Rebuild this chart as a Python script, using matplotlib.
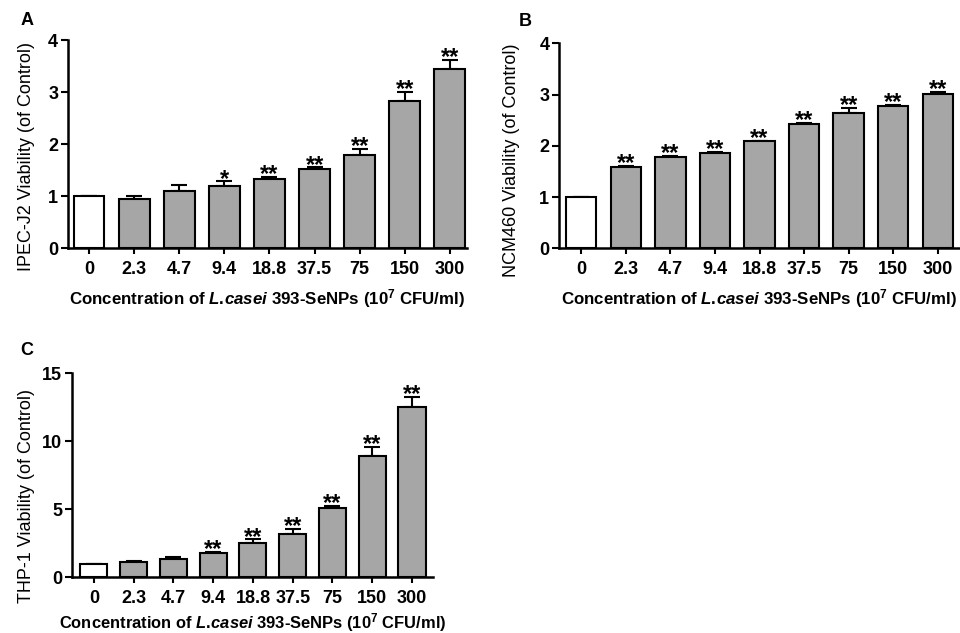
import matplotlib
matplotlib.use("Agg")
import matplotlib.pyplot as plt

plt.rcParams['font.family'] = ['Liberation Sans', 'DejaVu Sans']
plt.rcParams['mathtext.fontset'] = 'custom'
plt.rcParams['mathtext.it'] = 'Liberation Sans:italic:bold'
plt.rcParams['mathtext.rm'] = 'Liberation Sans:bold'
plt.rcParams['mathtext.default'] = 'regular'

# ---------------------------------------------------------------------
# Data
# ---------------------------------------------------------------------
conc_labels = ['0', '2.3', '4.7', '9.4', '18.8', '37.5', '75', '150', '300']

ipec_mean = [1.00, 0.94, 1.10, 1.19, 1.33, 1.51, 1.78, 2.83, 3.45]
ipec_err = [0.00, 0.06, 0.11, 0.09, 0.03, 0.04, 0.12, 0.17, 0.16]
ipec_sig = ['', '', '', '*', '**', '**', '**', '**', '**']

ncm_mean = [1.00, 1.58, 1.79, 1.86, 2.09, 2.43, 2.64, 2.78, 3.02]
ncm_err = [0.00, 0.03, 0.01, 0.02, 0.01, 0.02, 0.10, 0.02, 0.03]
ncm_sig = ['', '**', '**', '**', '**', '**', '**', '**', '**']

thp_mean = [1.00, 1.10, 1.35, 1.76, 2.50, 3.20, 5.12, 8.92, 12.50]
thp_err = [0.00, 0.08, 0.13, 0.12, 0.28, 0.37, 0.15, 0.68, 0.74]
thp_sig = ['', '', '', '**', '**', '**', '**', '**', '**']

XLABEL = r"Concentration of $\mathit{L.\!casei}$ 393-SeNPs (10$^{7}$ CFU/ml)"

BAR_GREY = '#a6a6a6'


def draw_panel(ax, means, errs, sigs, ylabel, ymax, yticks, xlim,
               ylab_pos, xlab_pad, xlab_size):
    x = list(range(len(means)))
    colors = ['white'] + [BAR_GREY] * (len(means) - 1)
    ax.bar(x, means, width=0.68, color=colors, edgecolor='black',
           linewidth=1.5, zorder=2)
    lower = [0] * len(errs)
    ax.errorbar(x, means, yerr=[lower, errs], fmt='none', ecolor='black',
                elinewidth=1.5, capsize=6, capthick=1.5, zorder=1)
    for xi, m, e, s in zip(x, means, errs, sigs):
        if s:
            ax.annotate(s, (xi, m + e), xytext=(0, -3),
                        textcoords='offset points', ha='center',
                        va='baseline', fontsize=17, fontweight='bold')
    ax.set_xlim(*xlim)
    ax.set_ylim(0, ymax)
    ax.set_yticks(yticks)
    ax.set_xticks(x)
    ax.set_xticklabels(conc_labels)
    ax.tick_params(axis='x', length=4, width=1.5, pad=5, labelsize=13)
    ax.tick_params(axis='y', length=5, width=1.5, pad=2, labelsize=13)
    for lab in ax.get_xticklabels() + ax.get_yticklabels():
        lab.set_fontweight('bold')
    for side in ['top', 'right']:
        ax.spines[side].set_visible(False)
    for side in ['left', 'bottom']:
        ax.spines[side].set_linewidth(1.8)
    ax.set_ylabel(ylabel, fontsize=13)
    ax.yaxis.set_label_coords(*ylab_pos)
    ax.set_xlabel(XLABEL, fontsize=xlab_size, fontweight='bold',
                  labelpad=xlab_pad)


fig = plt.figure(figsize=(9.6, 6.33), dpi=100)

ax_a = fig.add_axes([0.0708, 0.6082, 0.4156, 0.3286])
draw_panel(ax_a, ipec_mean, ipec_err, ipec_sig,
           'IPEC-J2 Viability (of Control)', 4, [0, 1, 2, 3, 4],
           (-0.47, 8.38), (-0.082, 0.44), 7, 12.2)

ax_b = fig.add_axes([0.5823, 0.6077, 0.4177, 0.3239])
draw_panel(ax_b, ncm_mean, ncm_err, ncm_sig,
           'NCM460 Viability (of Control)', 4, [0, 1, 2, 3, 4],
           (-0.5, 8.5), (-0.097, 0.43), 7, 12.2)

ax_c = fig.add_axes([0.0747, 0.0880, 0.3764, 0.3223])
draw_panel(ax_c, thp_mean, thp_err, thp_sig,
           'THP-1 Viability (of Control)', 15, [0, 5, 10, 15],
           (-0.56, 8.53), (-0.102, 0.40), 3, 11.9)

fig.text(0.021, 0.981, 'A', fontsize=13, fontweight='bold', va='top')
fig.text(0.540, 0.979, 'B', fontsize=13, fontweight='bold', va='top')
fig.text(0.021, 0.460, 'C', fontsize=13, fontweight='bold', va='top')

fig.savefig('out.png', dpi=100)
